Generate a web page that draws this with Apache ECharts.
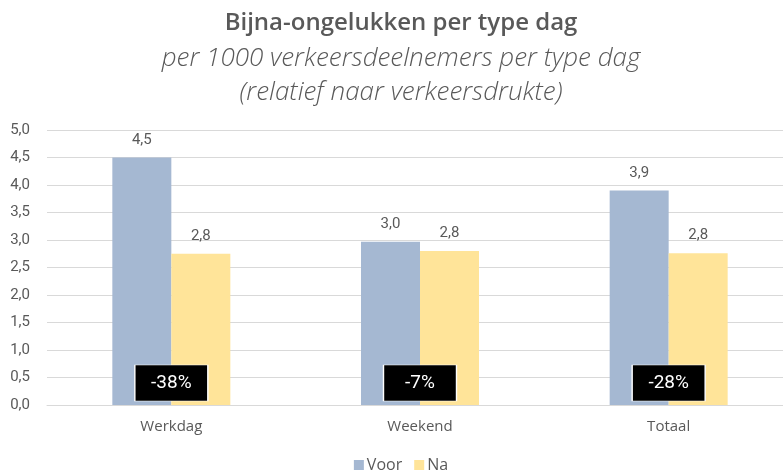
<!DOCTYPE html>
<html>
<head>
<meta charset="utf-8">
<script src="https://cdn.jsdelivr.net/npm/echarts@6/dist/echarts.min.js"></script>
<style>
  html, body { margin: 0; padding: 0; background: #fff; overflow: hidden; }
  #wrap { width: 783px; height: 473px; overflow: hidden; }
  #chart { width: 802px; height: 473px; }
</style>
</head>
<body>
<div id="wrap"><div id="chart"></div></div>
<script>
// Data
var categories = ['Werkdag', 'Weekend', 'Totaal'];
var voorValues = [4.5, 2.97, 3.9];
var naValues = [2.75, 2.8, 2.76];
var changeLabels = ['-38%', '-7%', '-28%'];
var boxLevel = [0.4, 0.4, 0.4];

var textGrey = '#595959';

function fmt(v) {
  return v.toFixed(1).replace('.', ',');
}

// the original chart is a bit wider than the visible window, so the
// canvas is drawn at 802px and cropped by the wrapper
var chart = echarts.init(document.getElementById('chart'), null, {
  renderer: 'canvas',
  width: 802,
  height: 473
});

var option = {
  animation: false,
  title: [{
    text: 'Bijna-ongelukken per type dag',
    left: 'center',
    top: 6,
    textStyle: {
      fontFamily: 'Open Sans',
      fontSize: 24,
      fontWeight: 600,
      color: textGrey
    }
  }, {
    text: 'per 1000 verkeersdeelnemers per type dag\n(relatief naar verkeersdrukte)',
    left: 'center',
    top: 37,
    textStyle: {
      fontFamily: 'Open Sans',
      fontSize: 26,
      fontStyle: 'italic',
      fontWeight: 300,
      lineHeight: 34,
      color: textGrey
    }
  }],
  legend: {
    data: ['Voor', 'Na'],
    top: 452,
    left: 'center',
    itemWidth: 10,
    itemHeight: 10,
    itemGap: 12,
    icon: 'rect',
    textStyle: {
      fontFamily: 'Open Sans',
      fontSize: 16,
      color: textGrey,
      padding: [0, 0, 0, -2]
    }
  },
  grid: {
    left: 47,
    top: 130,
    width: 746,
    height: 275
  },
  xAxis: {
    type: 'category',
    data: categories,
    axisLine: { lineStyle: { color: '#d9d9d9', width: 1 } },
    axisTick: { show: false },
    axisLabel: {
      fontFamily: 'Open Sans',
      fontSize: 15,
      color: textGrey,
      margin: 14
    }
  },
  yAxis: {
    type: 'value',
    min: 0,
    max: 5,
    interval: 0.5,
    axisLine: { show: false },
    axisTick: { show: false },
    splitLine: { lineStyle: { color: '#d9d9d9', width: 1 } },
    axisLabel: {
      fontFamily: 'Roboto',
      fontSize: 15,
      color: textGrey,
      margin: 17,
      formatter: function (v) { return fmt(v); }
    }
  },
  series: [{
    name: 'Voor',
    type: 'bar',
    data: voorValues,
    barWidth: 59,
    barGap: '0%',
    itemStyle: { color: '#a5b8d2' },
    label: {
      show: true,
      position: 'top',
      distance: 10,
      fontFamily: 'Roboto',
      fontSize: 15,
      color: textGrey,
      formatter: function (p) { return fmt(p.value); }
    }
  }, {
    name: 'Na',
    type: 'bar',
    data: naValues,
    barWidth: 59,
    barGap: '0%',
    itemStyle: { color: '#ffe499' },
    label: {
      show: true,
      position: 'top',
      distance: 10,
      fontFamily: 'Roboto',
      fontSize: 15,
      color: textGrey,
      formatter: function (p) { return fmt(p.value); }
    }
  }, {
    name: 'Verschil',
    type: 'scatter',
    data: boxLevel.map(function (v, i) { return [categories[i], v]; }),
    symbol: 'rect',
    symbolSize: [73, 36],
    z: 5,
    itemStyle: {
      color: '#000',
      opacity: 1,
      borderColor: '#fff',
      borderWidth: 1
    },
    label: {
      show: true,
      position: 'inside',
      fontFamily: 'Roboto',
      fontSize: 19,
      color: '#fff',
      formatter: function (p) { return changeLabels[p.dataIndex]; }
    }
  }]
};

chart.setOption(option);
</script>
</body>
</html>
